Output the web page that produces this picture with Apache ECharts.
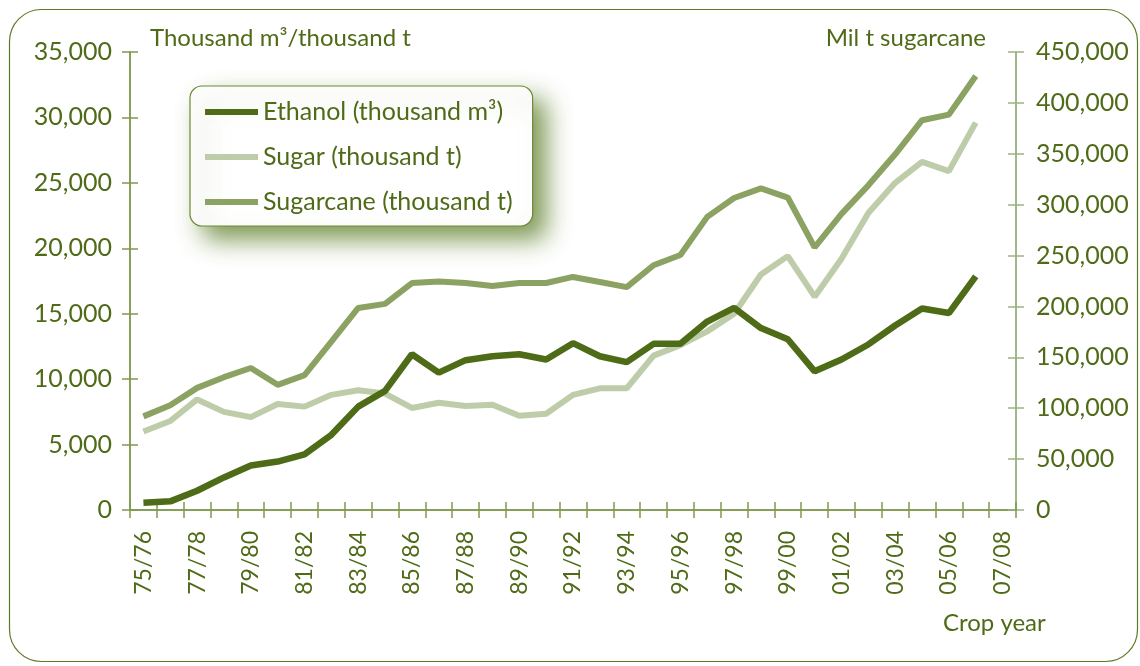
<!DOCTYPE html>
<html>
<head>
<meta charset="utf-8">
<script src="https://cdn.jsdelivr.net/npm/echarts@6/dist/echarts.min.js"></script>
<style>
  html, body { margin: 0; padding: 0; background: #ffffff; }
  #chart { width: 1140px; height: 666px; }
</style>
</head>
<body>
<div id="chart"></div>
<script>
// Crop years 1975/76 – 2007/08
const cropYears = ['75/76','76/77','77/78','78/79','79/80','80/81','81/82','82/83','83/84','84/85',
  '85/86','86/87','87/88','88/89','89/90','90/91','91/92','92/93','93/94','94/95','95/96',
  '96/97','97/98','98/99','99/00','00/01','01/02','02/03','03/04','04/05','05/06','06/07','07/08'];

// Ethanol production, thousand m³ (left axis)
const ethanol = [560, 660, 1470, 2490, 3400, 3700, 4250, 5750, 7900, 9100,
  11900, 10500, 11450, 11750, 11900, 11500, 12750, 11750, 11300, 12700, 12700,
  14400, 15450, 13900, 13050, 10600, 11500, 12650, 14100, 15400, 15050, 17850];

// Sugar production, thousand t (left axis)
const sugar = [6000, 6800, 8450, 7500, 7100, 8100, 7900, 8800, 9150, 8900,
  7800, 8200, 7950, 8050, 7200, 7350, 8800, 9300, 9300, 11800, 12600,
  13650, 15000, 18000, 19400, 16300, 19200, 22700, 25000, 26600, 25900, 29600];

// Sugarcane crushed, thousand t (right axis)
const sugarcane = [92000, 103000, 120000, 130500, 139500, 123000, 132500, 165500, 198500, 202500,
  223000, 224500, 223000, 220000, 223000, 223000, 229000, 224000, 219000, 240500, 250500,
  288000, 306500, 316000, 307000, 258000, 291000, 319000, 349500, 383000, 388500, 426500];

const leftTicks = { min: 0, max: 35000, interval: 5000 };
const rightTicks = { min: 0, max: 450000, interval: 50000 };

const FONT = 'Lato';
const TEXT = '#4f6b18';
const AXIS = '#7f9a4f';
const AXIS_R = '#9db281';

const chart = echarts.init(document.getElementById('chart'), null, { renderer: 'canvas' });

const fmt = v => v.toLocaleString('en-US');

// Each axis is drawn twice (outer and inner ticks) so the tick marks cross the axis line
function yAxisBase(side, ticks, inside, showLabel) {
  const c = side === 'right' ? AXIS_R : AXIS;
  return {
    type: 'value', position: side, min: ticks.min, max: ticks.max, interval: ticks.interval,
    splitLine: { show: false },
    axisLine: { show: true, onZero: false, lineStyle: { color: c, width: 1.5 } },
    axisTick: { show: true, inside: inside, length: 8, lineStyle: { color: c, width: 1.5 } },
    axisLabel: { show: showLabel, formatter: fmt, color: TEXT, fontFamily: FONT, fontSize: 25,
                 margin: side === 'right' ? 20 : 18 }
  };
}

function xAxisBase(inside, showLabel) {
  return {
    type: 'category', data: cropYears, boundaryGap: true, position: 'bottom',
    axisLine: { show: true, lineStyle: { color: AXIS, width: 1.5 } },
    axisTick: { show: true, inside: inside, length: 8, interval: 0, lineStyle: { color: AXIS, width: 1.5 } },
    axisLabel: { show: showLabel, interval: 1, rotate: 90, margin: 21, color: TEXT, fontFamily: FONT, fontSize: 23 }
  };
}

chart.setOption({
  animation: false,
  backgroundColor: '#ffffff',
  grid: { left: 130, right: 124, top: 52, bottom: 156, containLabel: false },
  xAxis: [xAxisBase(false, true), xAxisBase(true, false)],
  yAxis: [
    yAxisBase('left', leftTicks, false, true),
    yAxisBase('right', rightTicks, false, true),
    yAxisBase('left', leftTicks, true, false),
    yAxisBase('right', rightTicks, true, false)
  ],
  legend: {
    orient: 'vertical', left: 190, top: 86,
    data: ['Ethanol (thousand m³)', 'Sugar (thousand t)', 'Sugarcane (thousand t)'],
    icon: 'rect', itemWidth: 53, itemHeight: 6, itemGap: 19,
    padding: [13, 20, 11, 15],
    backgroundColor: '#ffffff', borderColor: '#6b8a35', borderWidth: 1.2, borderRadius: 12,
    shadowColor: 'rgba(105,135,55,0.85)', shadowBlur: 24, shadowOffsetX: 13, shadowOffsetY: 13,
    textStyle: { color: TEXT, fontFamily: FONT, fontSize: 25, lineHeight: 26 }
  },
  graphic: [
    { type: 'rect', left: 7, top: 7, silent: true, z: -10,
      shape: { width: 1128, height: 652, r: 32 },
      style: { fill: 'none', stroke: '#5d7a28', lineWidth: 1.2 } },
    { type: 'text', x: 150, y: 38, style: { text: 'Thousand m³/thousand t', fill: TEXT, font: '24px ' + FONT, verticalAlign: 'middle' } },
    { type: 'text', x: 986, y: 38, style: { text: 'Mil t sugarcane', fill: TEXT, font: '24px ' + FONT, align: 'right', verticalAlign: 'middle' } },
    { type: 'text', x: 943, y: 623, style: { text: 'Crop year', fill: TEXT, font: '24px ' + FONT, verticalAlign: 'middle' } }
  ],
  series: [
    { name: 'Sugar (thousand t)', type: 'line', data: sugar, xAxisIndex: 0, yAxisIndex: 0,
      showSymbol: false, z: 2, lineStyle: { color: '#bfcca9', width: 6 }, itemStyle: { color: '#bfcca9' } },
    { name: 'Sugarcane (thousand t)', type: 'line', data: sugarcane, xAxisIndex: 0, yAxisIndex: 1,
      showSymbol: false, z: 3, lineStyle: { color: '#8ba263', width: 6 }, itemStyle: { color: '#8ba263' } },
    { name: 'Ethanol (thousand m³)', type: 'line', data: ethanol, xAxisIndex: 0, yAxisIndex: 0,
      showSymbol: false, z: 4, lineStyle: { color: '#4e6c17', width: 6.5 }, itemStyle: { color: '#4e6c17' } }
  ]
});
</script>
</body>
</html>
